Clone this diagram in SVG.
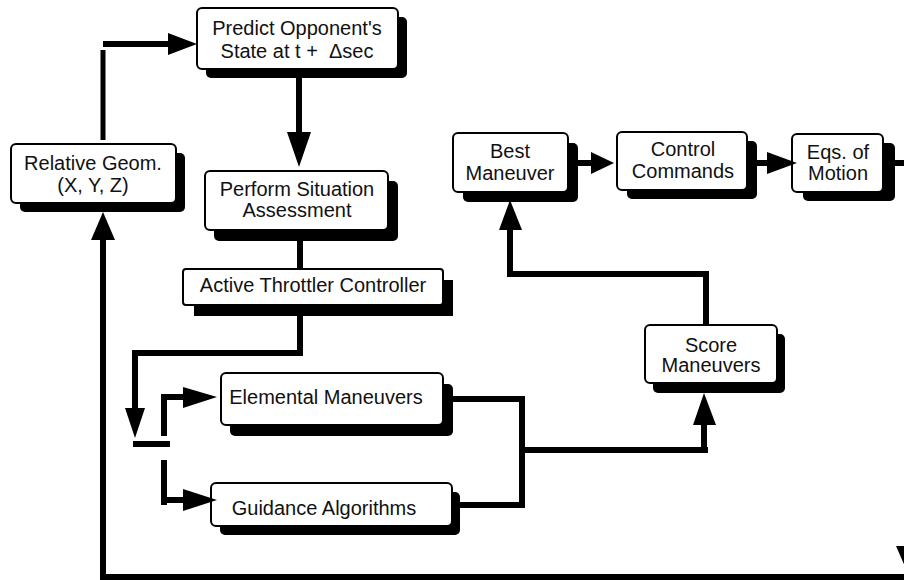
<svg xmlns="http://www.w3.org/2000/svg" width="904" height="580" viewBox="0 0 904 580">
<style>
.sh{fill:#000}
.bx{fill:#fff;stroke:#000;stroke-width:2}
.t{font-family:"Liberation Sans",Arial,Helvetica,sans-serif;font-size:20px;fill:#111;text-anchor:middle;white-space:pre}
.ln{fill:none;stroke:#000;stroke-width:6;stroke-linejoin:miter;stroke-linecap:butt}
.ah{fill:#000}
</style>
<rect width="904" height="580" fill="#fff"/>
<g id="relative-geom">
<rect class="sh" x="20" y="153" width="165" height="59" rx="5"/>
<rect class="bx" x="11" y="144" width="165" height="59" rx="5"/>
<text class="t" x="93" y="170">Relative Geom.</text>
<text class="t" x="93" y="192">(X, Y, Z)</text>
</g>
<g id="predict">
<rect class="sh" x="206" y="17" width="201" height="61" rx="5"/>
<rect class="bx" x="197" y="8" width="201" height="61" rx="5"/>
<text class="t" x="297" y="35">Predict Opponent's</text>
<text class="t" x="297" y="58" xml:space="preserve">State at t +  Δsec</text>
</g>
<g id="perform">
<rect class="sh" x="214" y="181" width="184" height="60" rx="5"/>
<rect class="bx" x="205" y="171" width="183" height="59" rx="5"/>
<text class="t" x="297" y="196">Perform Situation</text>
<text class="t" x="297" y="217">Assessment</text>
</g>
<g id="active-throttler">
<rect class="sh" x="194" y="280" width="259" height="36"/>
<rect class="bx" x="183" y="269" width="260" height="36" rx="3"/>
<text class="t" x="313" y="292">Active Throttler Controller</text>
</g>
<g id="elemental">
<rect class="sh" x="230" y="384" width="223" height="52" rx="5"/>
<rect class="bx" x="221" y="373" width="222" height="52" rx="5"/>
<text class="t" x="326" y="404">Elemental Maneuvers</text>
</g>
<g id="guidance">
<rect class="sh" x="220" y="492" width="240" height="43" rx="5"/>
<rect class="bx" x="211" y="483" width="241" height="43" rx="5"/>
<text class="t" x="324" y="515">Guidance Algorithms</text>
</g>
<g id="score">
<rect class="sh" x="653" y="334" width="132" height="59" rx="5"/>
<rect class="bx" x="645" y="325" width="132" height="58" rx="5"/>
<text class="t" x="711" y="352">Score</text>
<text class="t" x="711" y="372">Maneuvers</text>
</g>
<g id="best">
<rect class="sh" x="463" y="143" width="115" height="59" rx="5"/>
<rect class="bx" x="453" y="133" width="115" height="59" rx="5"/>
<text class="t" x="510" y="158">Best</text>
<text class="t" x="510" y="180">Maneuver</text>
</g>
<g id="control">
<rect class="sh" x="627" y="141" width="130" height="58" rx="5"/>
<rect class="bx" x="617" y="132" width="130" height="58" rx="5"/>
<text class="t" x="683" y="156">Control</text>
<text class="t" x="683" y="178">Commands</text>
</g>
<g id="eqs">
<rect class="sh" x="803" y="143" width="92" height="58" rx="5"/>
<rect class="bx" x="792" y="134" width="91" height="58" rx="5"/>
<text class="t" x="838" y="159">Eqs. of</text>
<text class="t" x="838" y="180">Motion</text>
</g>
<g id="connectors">
<line class="ln" x1="103" y1="140" x2="103" y2="50" style="stroke-width:5"/>
<line class="ln" x1="103" y1="44" x2="172" y2="44"/>
<polygon class="ah" points="168,33 197,44 168,55"/>
<line class="ln" x1="299" y1="78" x2="299" y2="140"/>
<polygon class="ah" points="287,132 311,132 299,167"/>
<line class="ln" x1="300" y1="241" x2="300" y2="269"/>
<path class="ln" d="M300,316 V353 H135 V412"/>
<polygon class="ah" points="125,408 145,408 135,438"/>
<line class="ln" x1="133" y1="444" x2="170" y2="444"/>
<path class="ln" d="M164,436 V397 H188"/>
<polygon class="ah" points="183,387 217,397 183,408"/>
<path class="ln" d="M164,460 V505 M164,500 H188"/>
<polygon class="ah" points="183,489 217,500 183,511"/>
<path class="ln" d="M453,399 H522 V505 H460"/>
<path class="ln" d="M522,450 H708"/>
<line class="ln" x1="704" y1="453" x2="704" y2="420"/>
<polygon class="ah" points="693,425 716,425 704,393"/>
<path class="ln" d="M706,325 V274 H510 V226"/>
<polygon class="ah" points="499,230 522,230 510,200"/>
<line class="ln" x1="578" y1="163" x2="596" y2="163"/>
<polygon class="ah" points="591,152 614,163 591,174"/>
<line class="ln" x1="757" y1="163" x2="772" y2="163"/>
<polygon class="ah" points="767,152 797,163 767,174"/>
<line class="ln" x1="895" y1="163" x2="904" y2="163"/>
<path class="ln" d="M904,577 H103 V236"/>
<polygon class="ah" points="91,240 115,240 103,212"/>
<polygon class="ah" points="896,546 918,546 907,571"/>
</g>
</svg>
